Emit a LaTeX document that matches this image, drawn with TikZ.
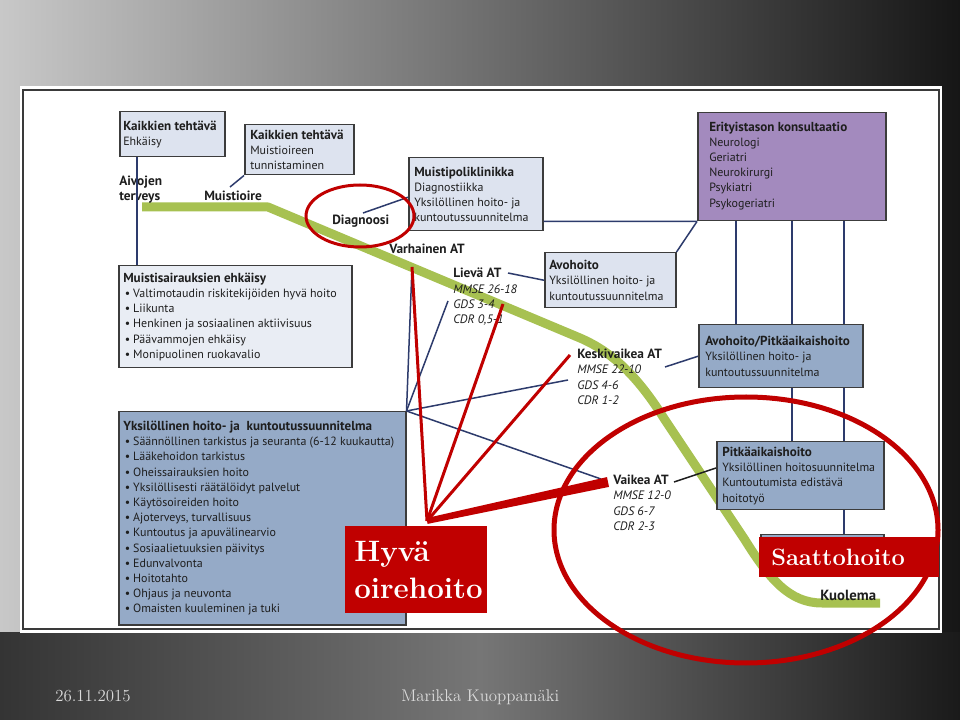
\documentclass[tikz,border=0pt]{standalone}
\usepackage{fontspec}
\newfontfamily\dgf{PT Sans}
\usetikzlibrary{calc}
\newdimen\pu
\pu=0.025cm
\definecolor{bgL}{HTML}{C8C8C8}
\definecolor{bgR}{HTML}{161616}
\definecolor{ftL}{HTML}{343434}
\definecolor{ftM}{HTML}{767676}
\definecolor{ftR}{HTML}{1A1A1A}
\definecolor{frameline}{HTML}{3A3A3A}
\definecolor{boxline}{HTML}{3C3C3C}
\definecolor{lightbox}{HTML}{DDE3EF}
\definecolor{palebox}{HTML}{E9EDF4}
\definecolor{midbox}{HTML}{95AAC7}
\definecolor{purplebox}{HTML}{A38ABE}
\definecolor{navy}{HTML}{2D3B6C}
\definecolor{curvegreen}{HTML}{A7C151}
\definecolor{hred}{HTML}{C00000}
\definecolor{txt}{HTML}{1E1E1E}
\definecolor{foot}{HTML}{DADADA}
\newcommand\dgbul{\hspace*{1.5\pu}\textbullet\hspace{3\pu}}
\newcommand\bt[1]{{\bfseries\fontsize{9.3}{10.8}\selectfont #1}}
\begin{document}
\begin{tikzpicture}[x=0.025cm, y=-0.025cm,
  box/.style={draw=boxline, line width=1.5\pu, anchor=north west, inner sep=0pt},
  boxtext/.style={anchor=west, inner sep=0pt, align=left, text=txt, font=\dgf\fontsize{8.5}{10.8}\selectfont},
  lbl/.style={inner sep=0pt, anchor=west, align=left, text=txt, font=\dgf\bfseries\fontsize{9.5}{10.8}\selectfont},
  stage/.style={inner sep=0pt, anchor=north west, align=left, text=txt, font=\dgf\fontsize{8.7}{10.8}\selectfont},
  conn/.style={draw=navy, line width=1.5\pu},
  redline/.style={draw=hred, line width=3\pu},
  redbox/.style={fill=hred, anchor=north west, inner sep=0pt},
  redtext/.style={anchor=west, inner sep=0pt, align=left, text=white},
  footer/.style={anchor=base west, inner sep=0pt, text=foot, font=\rmfamily\fontsize{12}{14}\selectfont}
]
\useasboundingbox (0,0) rectangle (960,720);
% background
\fill[left color=bgL, right color=bgR] (0,0) rectangle (960,720);
\fill[left color=ftL, right color=ftR, middle color=ftM] (0,632) rectangle (960,720);
% panel
\fill[white] (20,86) rectangle (942,633);
\draw[frameline, line width=2\pu] (23,90) rectangle (939,629);

% green course curve
\draw[curvegreen, line width=9\pu, line join=round]
  (142,207) -- (268,207) -- (580,338) .. controls (615,353) and (640,380) .. (665,420)
  -- (745,540) .. controls (770,580) and (790,603) .. (822,603) -- (880,603);

% boxes
\node[box, fill=lightbox, minimum width=105\pu, minimum height=45\pu] (b1) at (119,111) {};
\node[box, fill=lightbox, minimum width=109\pu, minimum height=50\pu] (b2) at (244,124) {};
\node[box, fill=lightbox, minimum width=134\pu, minimum height=73\pu] (b3) at (408,157) {};
\node[box, fill=purplebox, minimum width=188\pu, minimum height=108\pu] (eri) at (697,112) {};
\node[box, fill=lightbox, minimum width=131\pu, minimum height=55\pu] (avo) at (544,252) {};
\node[box, fill=palebox, minimum width=233\pu, minimum height=102\pu] (mse) at (118,265) {};
\node[box, fill=midbox, minimum width=287\pu, minimum height=213\pu] (yks) at (118,411) {};
\node[box, fill=midbox, minimum width=164\pu, minimum height=63\pu] (ap) at (698,324) {};
\node[box, fill=midbox, minimum width=167\pu, minimum height=68\pu] (pk) at (716,441) {};
\node[box, fill=midbox, minimum width=123\pu, minimum height=41\pu] (saat) at (760,534) {};

% box texts
\node[boxtext] (b1t) at ($(b1.west)+(4,0)$) {\bt{Kaikkien tehtävä}\\Ehkäisy};
\node[boxtext] (b2t) at ($(b2.west)+(6,0)$) {\bt{Kaikkien tehtävä}\\Muistioireen\\tunnistaminen};
\node[boxtext] (b3t) at ($(b3.west)+(6,0)$) {\bt{Muistipoliklinikka}\\Diagnostiikka\\Yksilöllinen hoito- ja\\kuntoutussuunnitelma};
\node[boxtext] (erit) at ($(eri.west)+(12,-1)$) {\bt{Erityistason konsultaatio}\\Neurologi\\Geriatri\\Neurokirurgi\\Psykiatri\\Psykogeriatri};
\node[boxtext] (avot) at ($(avo.west)+(5,0)$) {\bt{Avohoito}\\Yksilöllinen hoito- ja\\kuntoutussuunnitelma};
\node[boxtext] (mset) at ($(mse.west)+(5,0)$)
  {\bt{Muistisairauksien ehkäisy}\\
   \dgbul Valtimotaudin riskitekijöiden hyvä hoito\\
   \dgbul Liikunta\\
   \dgbul Henkinen ja sosiaalinen aktiivisuus\\
   \dgbul Päävammojen ehkäisy\\
   \dgbul Monipuolinen ruokavalio};
\node[boxtext] (ykst) at ($(yks.west)+(5,0)$)
  {\bt{Yksilöllinen hoito- ja\ \ kuntoutussuunnitelma}\\
   \dgbul Säännöllinen tarkistus ja seuranta (6-12 kuukautta)\\
   \dgbul Lääkehoidon tarkistus\\
   \dgbul Oheissairauksien hoito\\
   \dgbul Yksilöllisesti räätälöidyt palvelut\\
   \dgbul Käytösoireiden hoito\\
   \dgbul Ajoterveys, turvallisuus\\
   \dgbul Kuntoutus ja apuvälinearvio\\
   \dgbul Sosiaalietuuksien päivitys\\
   \dgbul Edunvalvonta\\
   \dgbul Hoitotahto\\
   \dgbul Ohjaus ja neuvonta\\
   \dgbul Omaisten kuuleminen ja tuki};
\node[boxtext] (apt) at ($(ap.west)+(7,0)$) {\bt{Avohoito/Pitkäaikaishoito}\\Yksilöllinen hoito- ja\\kuntoutussuunnitelma};
\node[boxtext] (pkt) at ($(pk.west)+(6,0)$) {\bt{Pitkäaikaishoito}\\Yksilöllinen hoitosuunnitelma\\Kuntoutumista edistävä\\hoitotyö};

% labels on the course
\node[lbl] (aiv) at (119,190) {Aivojen\\terveys};
\node[lbl] (mui) at (204,196) {Muistioire};
\node[lbl] (diag) at (332,221) {Diagnoosi};
\node[lbl] (varh) at (389,249) {Varhainen AT};
\node[stage] (lieva) at (453,268) {{\bfseries\fontsize{9.5}{10.8}\selectfont Lievä AT}\\\itshape MMSE 26-18\\\itshape GDS 3-4\\\itshape CDR 0,5-1};
\node[stage] (kesk) at (577,349) {{\bfseries\fontsize{9.5}{10.8}\selectfont Keskivaikea AT}\\\itshape MMSE 22-10\\\itshape GDS 4-6\\\itshape CDR 1-2};
\node[stage] (vaik) at (613,475) {{\bfseries\fontsize{9.5}{10.8}\selectfont Vaikea AT}\\\itshape MMSE 12-0\\\itshape GDS 6-7\\\itshape CDR 2-3};
\node[lbl, font=\dgf\bfseries\fontsize{10.5}{12}\selectfont] (kuol) at (820,595) {Kuolema};

% connector end points
\coordinate (muiT) at (230,187);
\coordinate (diagT) at (363,213);
\coordinate (lievaR) at (508,273);
\coordinate (keskR) at (665,367);
\coordinate (vaikR) at (674,482);
\coordinate (varhB) at (412,267);
\coordinate (lievaG) at (448,301);
\coordinate (keskG) at (568,380);
\coordinate (vaikL) at (601,479);
\coordinate (v1) at (736,0);
\coordinate (v2) at (792,0);
\coordinate (v3) at (844,0);

% connectors
\draw[conn] ($(b1.south west)+(18,0)$) -- ($(mse.north west)+(19,0)$);
\draw[conn] (muiT) -- (b2.south west);
\draw[conn] (diagT) -- ($(b3.west)+(0,3)$);
\draw[conn] ($(b3.south east)+(0,-10)$) -- (eri.south west);
\draw[conn] (eri.south west) -- (avo.north east);
\draw[conn] (v1 |- eri.south) -- (v1 |- ap.north);
\draw[conn] (v2 |- eri.south) -- (v2 |- ap.north);
\draw[conn] (v3 |- eri.south) -- (v3 |- ap.north);
\draw[conn] (v2 |- ap.south) -- (v2 |- pk.north);
\draw[conn] (v3 |- ap.south) -- (v3 |- pk.north);
\draw[conn] (v3 |- pk.south) -- (v3 |- saat.north);
\draw[conn] (lievaR) -- (avo.west);
\draw[conn] (keskR) -- (ap.west);
\draw[draw=txt, line width=1.5\pu] (vaikR) -- ($(pk.north west)+(0,27)$);
\foreach \t in {varhB,lievaG,keskG,vaikL}
  \draw[conn] (yks.north east) -- (\t);

% red highlight lines
\coordinate (apex) at (427,521);
\coordinate (lievaC) at (503,304);
\coordinate (keskL) at (570,355);
\coordinate (vaikW) at (608,482);
\draw[redline] (apex) -- (varhB);
\draw[redline] (apex) -- (lievaC);
\draw[redline] (apex) -- (keskL);
\fill[hred] ($(apex)+(-0.6,-2.9)$) -- ($(vaikW)+(-1,-4.9)$) -- ($(vaikW)+(1,4.9)$) -- ($(apex)+(0.6,2.9)$) -- cycle;

% red boxes
\node[redbox, minimum width=142\pu, minimum height=87\pu] (hyva) at (345,526) {};
\node[redtext, font=\rmfamily\bfseries\fontsize{21}{26.5}\selectfont] (hyvat) at ($(hyva.west)+(9,0)$) {Hyvä\\oirehoito};
\node[redbox, minimum width=180\pu, minimum height=40\pu] (saatred) at (759,537) {};
\node[redtext, font=\rmfamily\bfseries\fontsize{16.8}{20}\selectfont] (saatt) at ($(saatred.west)+(12,0)$) {Saattohoito};

% red ellipses
\draw[hred, line width=3\pu] (360,216) ellipse [x radius=54\pu, y radius=31\pu];
\draw[hred, line width=5\pu] (746,530) ellipse [x radius=192\pu, y radius=133\pu];

% footer
\node[footer] (date) at (55,701) {26.11.2015};
\node[footer] (author) at (401,701) {Marikka Kuoppamäki};
\end{tikzpicture}
\end{document}
